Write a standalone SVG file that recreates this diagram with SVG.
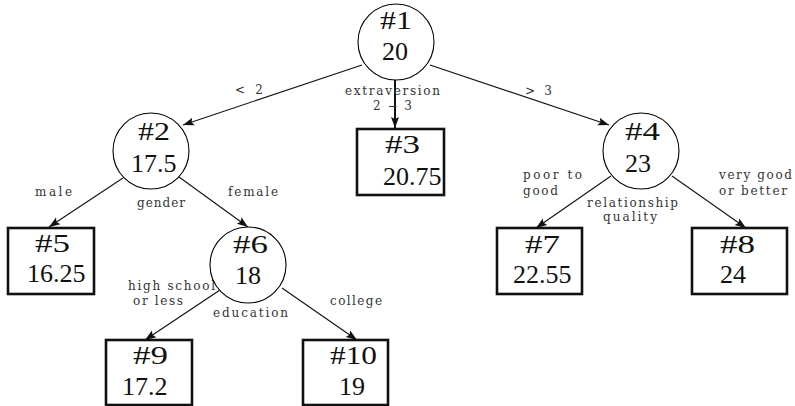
<svg xmlns="http://www.w3.org/2000/svg" width="795" height="406" viewBox="0 0 795 406">
  <style>
    .bg { fill: #ffffff; }
    .circ { fill: #ffffff; stroke: #000000; stroke-width: 1.1; }
    .box { fill: #ffffff; stroke: #111111; stroke-width: 2.6; }
    .nt { font-family: "Liberation Serif", "Times New Roman", serif; font-size: 26px; fill: #111111; }
    .lbl { font-family: "DejaVu Serif", "Liberation Serif", serif; font-size: 12px; fill: #333333; }
    .edge { stroke: #111111; stroke-width: 1.1; fill: none; marker-end: url(#arr); }
    .edge.thick { stroke-width: 2; }
  </style>
  <defs>
    <marker id="arr" markerUnits="userSpaceOnUse" markerWidth="12" markerHeight="10" viewBox="0 0 12 10" refX="11" refY="5" orient="auto">
      <path d="M0,1 L11,5 L0,9 L2,5 Z" fill="#111111"/>
    </marker>
  </defs>
  <rect class="bg" x="0" y="0" width="795" height="406"/>

  <!-- connectors -->
  <g id="edges">
    <line class="edge" x1="362" y1="65" x2="183" y2="125"/>
    <line class="edge thick" x1="395" y1="80" x2="395" y2="128"/>
    <line class="edge" x1="430" y1="65" x2="609" y2="125"/>
    <line class="edge" x1="123" y1="178" x2="49" y2="227"/>
    <line class="edge" x1="179" y1="177" x2="248" y2="227"/>
    <line class="edge" x1="611" y1="176" x2="536" y2="228"/>
    <line class="edge" x1="672" y1="176" x2="746" y2="228"/>
    <line class="edge" x1="220" y1="290" x2="145" y2="340"/>
    <line class="edge" x1="282" y1="288" x2="357" y2="340"/>
  </g>

  <!-- split labels -->
  <g id="labels">
    <text class="lbl" x="235" y="94" textLength="28">&lt; 2</text>
    <text class="lbl" x="345" y="95" textLength="95">extraversion</text>
    <text class="lbl" x="373" y="110" textLength="39">2 − 3</text>
    <text class="lbl" x="525" y="95" textLength="27">&gt; 3</text>
    <text class="lbl" x="35" y="196" textLength="37">male</text>
    <text class="lbl" x="137" y="207" textLength="48">gender</text>
    <text class="lbl" x="228" y="196" textLength="50">female</text>
    <text class="lbl" x="523" y="179" textLength="59">poor to</text>
    <text class="lbl" x="523" y="195" textLength="35">good</text>
    <text class="lbl" x="587" y="207" textLength="91">relationship</text>
    <text class="lbl" x="603" y="221" textLength="54">quality</text>
    <text class="lbl" x="719" y="179" textLength="73">very good</text>
    <text class="lbl" x="719" y="195" textLength="68">or better</text>
    <text class="lbl" x="128" y="290" textLength="87">high school</text>
    <text class="lbl" x="133" y="305" textLength="50">or less</text>
    <text class="lbl" x="213" y="317" textLength="75">education</text>
    <text class="lbl" x="330" y="305" textLength="52">college</text>
  </g>

  <g id="n1">
    <circle class="circ" cx="396" cy="42" r="38"/>
    <text class="nt" x="380" y="29" textLength="32" lengthAdjust="spacingAndGlyphs">#1</text>
    <text class="nt" x="382" y="60">20</text>
  </g>
  <g id="n2">
    <circle class="circ" cx="151" cy="151" r="38"/>
    <text class="nt" x="138" y="140" textLength="32" lengthAdjust="spacingAndGlyphs">#2</text>
    <text class="nt" x="131" y="172">17.5</text>
  </g>
  <g id="n3">
    <rect class="box" x="357" y="129" width="87" height="66"/>
    <text class="nt" x="385" y="153" textLength="35" lengthAdjust="spacingAndGlyphs">#3</text>
    <text class="nt" x="383" y="185">20.75</text>
  </g>
  <g id="n4">
    <circle class="circ" cx="641" cy="151" r="38"/>
    <text class="nt" x="625" y="140" textLength="35" lengthAdjust="spacingAndGlyphs">#4</text>
    <text class="nt" x="625" y="172">23</text>
  </g>
  <g id="n5">
    <rect class="box" x="8" y="228" width="86" height="66"/>
    <text class="nt" x="35" y="252" textLength="35" lengthAdjust="spacingAndGlyphs">#5</text>
    <text class="nt" x="27" y="282">16.25</text>
  </g>
  <g id="n6">
    <circle class="circ" cx="248" cy="265" r="38"/>
    <text class="nt" x="233" y="253" textLength="35" lengthAdjust="spacingAndGlyphs">#6</text>
    <text class="nt" x="235" y="284">18</text>
  </g>
  <g id="n7">
    <rect class="box" x="497" y="228" width="85" height="66"/>
    <text class="nt" x="525" y="253" textLength="35" lengthAdjust="spacingAndGlyphs">#7</text>
    <text class="nt" x="513" y="283">22.55</text>
  </g>
  <g id="n8">
    <rect class="box" x="692" y="228" width="95" height="66"/>
    <text class="nt" x="720" y="253" textLength="35" lengthAdjust="spacingAndGlyphs">#8</text>
    <text class="nt" x="720" y="283">24</text>
  </g>
  <g id="n9">
    <rect class="box" x="106" y="340" width="86" height="65"/>
    <text class="nt" x="133" y="364" textLength="35" lengthAdjust="spacingAndGlyphs">#9</text>
    <text class="nt" x="122" y="395">17.2</text>
  </g>
  <g id="n10">
    <rect class="box" x="303" y="340" width="85" height="65"/>
    <text class="nt" x="330" y="364" textLength="47" lengthAdjust="spacingAndGlyphs">#10</text>
    <text class="nt" x="339" y="395">19</text>
  </g>
</svg>
